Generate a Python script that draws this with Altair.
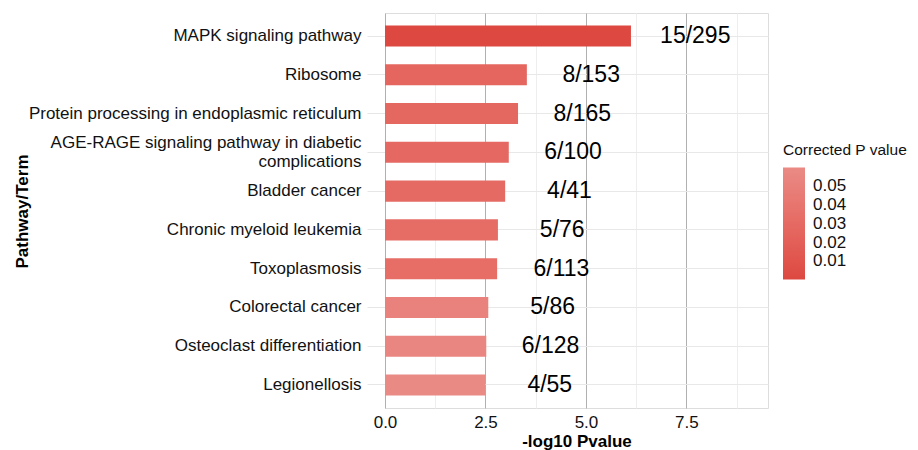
import altair as alt
import pandas as pd

terms = [
    "MAPK signaling pathway",
    "Ribosome",
    "Protein processing in endoplasmic reticulum",
    "AGE-RAGE signaling pathway in diabetic\ncomplications",
    "Bladder cancer",
    "Chronic myeloid leukemia",
    "Toxoplasmosis",
    "Colorectal cancer",
    "Osteoclast differentiation",
    "Legionellosis",
]
neglog_p = [6.12, 3.53, 3.31, 3.08, 2.99, 2.81, 2.79, 2.57, 2.52, 2.50]
corrected_p = [0.0003, 0.026, 0.027, 0.029, 0.030, 0.032, 0.033, 0.052, 0.056, 0.060]
ratio = ["15/295", "8/153", "8/165", "6/100", "4/41", "5/76", "6/113", "5/86", "6/128", "4/55"]

label_shift = 1.6

df = pd.DataFrame({
    "term": terms,
    "val": neglog_p,
    "padj": corrected_p,
    "ratio": ratio,
})
df["label_x"] = df["val"] + label_shift

FONT = "Liberation Sans"

y_enc = alt.Y(
    "term:N",
    sort=terms,
    title="Pathway/Term",
    scale=alt.Scale(paddingInner=0.457, paddingOuter=0.323),
    axis=alt.Axis(
        labelExpr="split(datum.label, '\\n')",
        labelFontSize=17,
        labelColor="#111111",
        labelFont=FONT,
        labelLimit=400,
        labelOffset={"condition": {"test": "indexof(datum.value, '\\n') >= 0", "value": -9}, "value": 0},
        tickSize=18,
        tickColor="#E6E6E6",
        labelPadding=6,
        domain=False,
        grid=True,
        gridColor="#E8E8E8",
        titleFontSize=17,
        titleFont=FONT,
        titleFontWeight="bold",
        titleColor="#000000",
        titleX=-363,
        titleY=198,
        titleAngle=-90,
        titleAlign="center",
        titleBaseline="middle",
        labelLineHeight=19,
    ),
)

x_scale = alt.Scale(domain=[0, 9.53], nice=False, zero=True)

bars = alt.Chart(df).mark_bar().encode(
    x=alt.X(
        "val:Q",
        scale=x_scale,
        title="-log10 Pvalue",
        axis=alt.Axis(
            values=[0, 1.25, 2.5, 3.75, 5.0, 6.25, 7.5, 8.75],
            labelExpr="datum.value % 2.5 == 0 ? format(datum.value, '.1f') : ''",
            gridColor={"condition": {"test": "datum.value % 2.5 == 0", "value": "#B0B0B0"}, "value": "#EEEEEE"},
            ticks=False,
            domain=False,
            labelFlush=False,
            labelFontSize=17,
            labelFont=FONT,
            labelColor="#111111",
            labelPadding=6,
            titleFontSize=17,
            titleFont=FONT,
            titleFontWeight="bold",
            titleColor="#000000",
            titlePadding=3,
        ),
    ),
    y=y_enc,
    color=alt.Color(
        "padj:Q",
        title="Corrected P value",
        scale=alt.Scale(range=["#DD4841", "#EA8A85"]),
        legend=alt.Legend(
            orient="none",
            legendX=398,
            legendY=130,
            values=[0.01, 0.02, 0.03, 0.04, 0.05],
            format=".2f",
            gradientLength=112,
            gradientThickness=22,
            labelFontSize=17,
            labelFont=FONT,
            labelColor="#111111",
            titleFontSize=15.5,
            titleFont=FONT,
            titleFontWeight="normal",
            titleColor="#111111",
            titlePadding=9,
            labelOffset=8,
            titleLimit=300,
            direction="vertical",
        ),
    ),
)

texts = alt.Chart(df).mark_text(
    fontSize=23, font=FONT, color="#000000", align="center", baseline="middle"
).encode(
    x=alt.X("label_x:Q", scale=x_scale),
    y=alt.Y("term:N", sort=terms),
    text="ratio:N",
)

chart = (
    alt.layer(bars, texts)
    .properties(
        width=383,
        height=395,
        autosize=alt.AutoSizeParams(type="none"),
        padding={"left": 377, "top": 5, "right": 142, "bottom": 42},
    )
    .configure_view(stroke=None)
    .configure(background="white")
)

chart.save("out.html", embed_options={"renderer": "svg", "actions": False})
